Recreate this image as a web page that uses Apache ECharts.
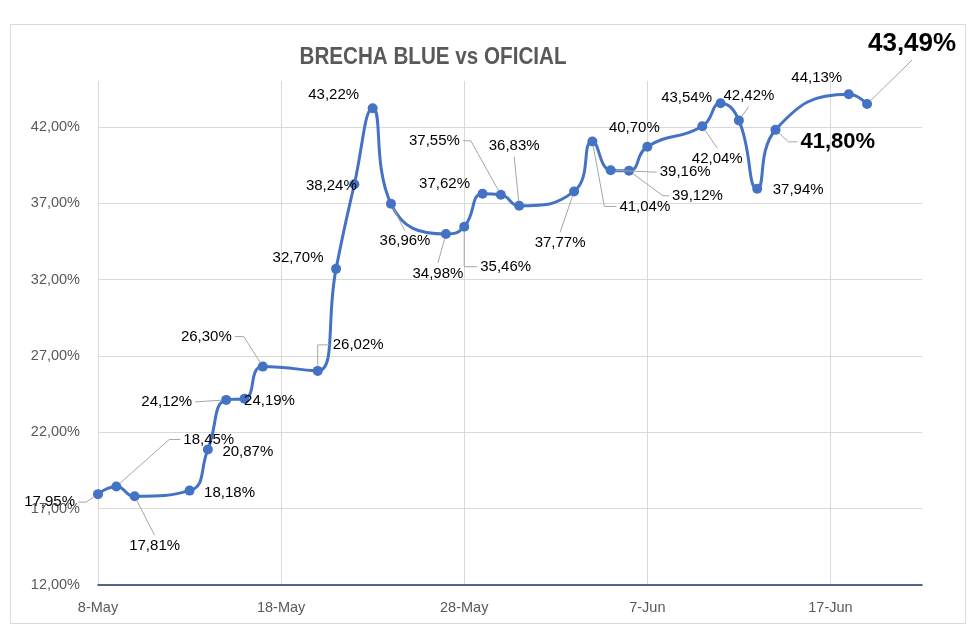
<!DOCTYPE html>
<html><head><meta charset="utf-8">
<script src="https://cdn.jsdelivr.net/npm/echarts@6/dist/echarts.min.js"></script>
<style>html,body{margin:0;padding:0;background:#fff}#c{width:980px;height:644px}</style>
</head><body><div id="c"></div>
<script>
// ---- data ----
const dates = ['2024-05-08','2024-05-09','2024-05-10','2024-05-13','2024-05-14','2024-05-15','2024-05-16','2024-05-17',
  '2024-05-20','2024-05-21','2024-05-22','2024-05-23','2024-05-24','2024-05-27','2024-05-28','2024-05-29','2024-05-30','2024-05-31',
  '2024-06-03','2024-06-04','2024-06-05','2024-06-06','2024-06-07','2024-06-10','2024-06-11','2024-06-12','2024-06-13','2024-06-14',
  '2024-06-18','2024-06-19'];
const values = [17.95,18.45,17.81,18.18,20.87,24.12,24.19,26.30,
  26.02,32.70,38.24,43.22,36.96,34.98,35.46,37.62,37.55,36.83,
  37.77,41.04,39.16,39.12,40.70,42.04,43.54,42.42,37.94,41.80,
  44.13,43.49];
const xTickLabels = ['8-May','18-May','28-May','7-Jun','17-Jun'];
const title = 'BRECHA BLUE vs OFICIAL';

// ---- label placement (mode, dx, dy, stub) relative to the point ----
const labelPlace = [
 ['R',-20,8,8], ['L',64,-47,11], ['T',20,39], ['C',40,2], ['C',40,2], ['R',-31,2,0], ['C',25,2], ['R',-28,-30,9],
 ['L',12,-26,12], ['C',-38,-11], ['C',-23,2], ['C',-39,-13], ['T',14,27], ['T',-8,29], ['L',13,40,13], ['C',-38,-10],
 ['R',-38,-54,8], ['B',-5,-49], ['T',-14,41], ['L',24,65,12], ['L',46,2,0], ['L',40,25,6], ['C',-13,-19], ['T',15,22],
 ['C',-34,-5], ['B',10,-14], ['C',41,1], ['L',22,12,9], ['C',-32,-16], ['B',45,-44]
];
const bigLabels = {27: 22, 29: 26};

const day0 = Date.parse(dates[0]);
const days = dates.map(d => Math.round((Date.parse(d) - day0) / 86400000));
const pts = days.map((d, i) => [d, values[i]]);
const pct = v => v.toFixed(2).replace('.', ',') + '%';
const FONT = "'Liberation Sans', Arial, sans-serif";

// condensed title: measure and squeeze horizontally
const TITLE_FONT = "bold 24px 'Liberation Sans', Arial, sans-serif";
const mctx = document.createElement('canvas').getContext('2d');
mctx.font = TITLE_FONT;
const titleScale = 267 / mctx.measureText(title).width;

const chart = echarts.init(document.getElementById('c'));
chart.setOption({
  animation: false,
  graphic: [
    {type: 'rect', left: 8, top: 22, shape: {width: 955, height: 599}, style: {fill: 'none', stroke: '#d9d9d9', lineWidth: 1}, silent: true, z: -1},
    {type: 'text', x: 433, y: 57, scaleX: titleScale, style: {text: title, font: TITLE_FONT, fill: '#595959', align: 'center', verticalAlign: 'middle'}, z: 10}
  ],
  grid: {left: 98, right: 58, top: 81, bottom: 59, outerBoundsMode: 'none'},
  xAxis: {
    type: 'value', min: 0, max: 45, interval: 10,
    axisLine: {show: true, lineStyle: {color: '#1f3864', width: 1.5}},
    axisTick: {show: false},
    splitLine: {show: true, showMaxLine: false, lineStyle: {color: '#d9d9d9', width: 1}},
    axisLabel: {formatter: v => xTickLabels[Math.round(v / 10)] || '', margin: 15, color: '#595959', fontSize: 14.5, fontFamily: FONT, showMaxLabel: false}
  },
  yAxis: {
    type: 'value', min: 12, max: 45, interval: 5,
    axisLine: {show: false}, axisTick: {show: false},
    splitLine: {show: true, showMaxLine: false, lineStyle: {color: '#d9d9d9', width: 1}},
    axisLabel: {formatter: v => (v > 44 ? '' : pct(v)), margin: 18, color: '#595959', fontSize: 14.5, fontFamily: FONT, showMaxLabel: false}
  },
  series: [
    {
      type: 'line', data: pts, smooth: 0.5, symbol: 'circle', symbolSize: 10, z: 2,
      itemStyle: {color: '#4472C4'}, lineStyle: {color: '#4472C4', width: 3}
    },
    {
      type: 'custom', data: pts, z: 5, clip: false,
      renderItem: function (params, api) {
        const i = params.dataIndex;
        const p = api.coord([api.value(0), api.value(1)]);
        const lp = labelPlace[i];
        const mode = lp[0], ax = p[0] + lp[1], ay = p[1] + lp[2];
        const stub = lp[3] === undefined ? 8 : lp[3];
        const gap = 3;
        let tx = ax, ty = ay, align = 'center', va = 'middle';
        if (mode === 'L') { tx = ax + gap; align = 'left'; }
        if (mode === 'R') { tx = ax - gap; align = 'right'; }
        if (mode === 'T') { ty = ay + gap; va = 'top'; }
        if (mode === 'B') { ty = ay - gap; va = 'bottom'; }
        const children = [];
        if (mode !== 'C') {
          const line = [[ax, ay]];
          if (mode === 'L' && stub) line.push([ax - stub, ay]);
          if (mode === 'R' && stub) line.push([ax + stub, ay]);
          const last = line[line.length - 1];
          const vx = last[0] - p[0], vy = last[1] - p[1];
          const len = Math.hypot(vx, vy) || 1;
          const r = Math.min(5, len);
          line.push([p[0] + vx / len * r, p[1] + vy / len * r]);
          children.push({type: 'polyline', shape: {points: line}, style: {stroke: '#a6a6a6', lineWidth: 1, fill: null}});
        }
        const big = bigLabels[i];
        children.push({type: 'text', x: tx, y: ty, style: {
          text: pct(values[i]), align: align, verticalAlign: va, fill: '#000',
          fontFamily: FONT, fontSize: big || 15, fontWeight: big ? 'bold' : 'normal'
        }});
        return {type: 'group', children: children};
      }
    }
  ]
});
</script></body></html>
